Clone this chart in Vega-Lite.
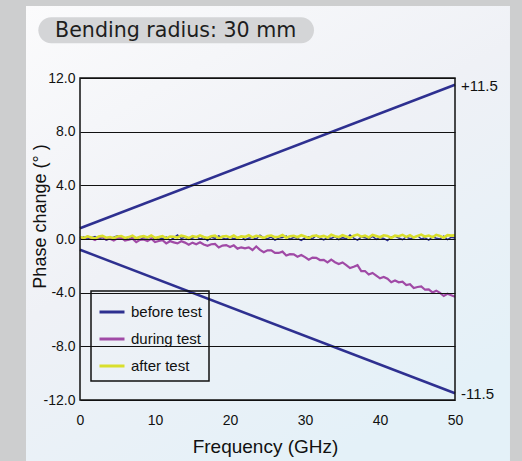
{
  "$schema": "https://vega.github.io/schema/vega-lite/v6.json",
  "width": 375,
  "height": 322,
  "autosize": {"type": "none"},
  "padding": {"left": 80, "top": 78, "right": 67, "bottom": 61},
  "background": "#cdcecf",
  "config": {
    "view": {"stroke": null},
    "axis": {
      "labelFont": "Liberation Sans",
      "labelFontSize": 14,
      "labelColor": "#111111",
      "labelFlush": false,
      "titleFont": "Liberation Sans",
      "titleFontSize": 19,
      "titleFontWeight": "normal",
      "titleColor": "#111111",
      "domain": false,
      "ticks": false,
      "gridColor": "#111111",
      "gridOpacity": 1,
      "gridWidth": 1
    },
    "legend": {
      "padding": 7,
      "strokeColor": "#111111",
      "strokeWidth": 1.5,
      "labelFont": "Liberation Sans",
      "labelFontSize": 15,
      "labelColor": "#111111",
      "symbolSize": 625,
      "symbolStrokeWidth": 3,
      "symbolType": "stroke",
      "rowPadding": 5,
      "labelOffset": 5
    }
  },
  "datasets": {
    "noisy": [
      {"f": 0, "before test": 0.06, "during test": 0.15, "after test": 0.16},
      {"f": 0.5, "before test": 0.14, "during test": 0.01, "after test": 0.06},
      {"f": 1, "before test": -0.02, "during test": 0.18, "after test": 0.2},
      {"f": 1.5, "before test": 0.09, "during test": 0.06, "after test": 0.12},
      {"f": 2, "before test": 0.18, "during test": -0.07, "after test": 0.03},
      {"f": 2.5, "before test": 0.01, "during test": 0.1, "after test": 0.18},
      {"f": 3, "before test": 0.11, "during test": 0.17, "after test": 0.23},
      {"f": 3.5, "before test": -0.08, "during test": -0.03, "after test": 0.1},
      {"f": 4, "before test": 0.04, "during test": 0.02, "after test": 0.15},
      {"f": 4.5, "before test": 0.13, "during test": -0.11, "after test": 0.06},
      {"f": 5, "before test": 0.24, "during test": 0.06, "after test": 0.19},
      {"f": 5.5, "before test": 0.0, "during test": 0.08, "after test": 0.22},
      {"f": 6, "before test": 0.08, "during test": -0.11, "after test": 0.08},
      {"f": 6.5, "before test": -0.04, "during test": -0.06, "after test": 0.14},
      {"f": 7, "before test": 0.16, "during test": 0.03, "after test": 0.24},
      {"f": 7.5, "before test": 0.05, "during test": -0.23, "after test": 0.06},
      {"f": 8, "before test": -0.06, "during test": -0.06, "after test": 0.17},
      {"f": 8.5, "before test": 0.12, "during test": -0.03, "after test": 0.21},
      {"f": 9, "before test": 0.07, "during test": -0.15, "after test": 0.12},
      {"f": 9.5, "before test": 0.22, "during test": 0.02, "after test": 0.26},
      {"f": 10, "before test": -0.02, "during test": -0.23, "after test": 0.08},
      {"f": 10.5, "before test": 0.1, "during test": -0.15, "after test": 0.14},
      {"f": 11, "before test": 0.03, "during test": -0.09, "after test": 0.22},
      {"f": 11.5, "before test": 0.14, "during test": -0.33, "after test": 0.04},
      {"f": 12, "before test": -0.1, "during test": -0.17, "after test": 0.19},
      {"f": 12.5, "before test": 0.08, "during test": -0.25, "after test": 0.17},
      {"f": 13, "before test": 0.3, "during test": -0.33, "after test": 0.11},
      {"f": 13.5, "before test": 0.04, "during test": -0.17, "after test": 0.25},
      {"f": 14, "before test": 0.12, "during test": -0.27, "after test": 0.18},
      {"f": 14.5, "before test": -0.03, "during test": -0.43, "after test": 0.07},
      {"f": 15, "before test": 0.07, "during test": -0.27, "after test": 0.22},
      {"f": 15.5, "before test": 0.17, "during test": -0.39, "after test": 0.14},
      {"f": 16, "before test": 0.01, "during test": -0.25, "after test": 0.27},
      {"f": 16.5, "before test": 0.1, "during test": -0.41, "after test": 0.15},
      {"f": 17, "before test": -0.11, "during test": -0.51, "after test": 0.08},
      {"f": 17.5, "before test": 0.13, "during test": -0.39, "after test": 0.2},
      {"f": 18, "before test": 0.05, "during test": -0.37, "after test": 0.25},
      {"f": 18.5, "before test": 0.24, "during test": -0.63, "after test": 0.05},
      {"f": 19, "before test": 0.08, "during test": -0.49, "after test": 0.18},
      {"f": 19.5, "before test": -0.02, "during test": -0.45, "after test": 0.22},
      {"f": 20, "before test": 0.14, "during test": -0.59, "after test": 0.12},
      {"f": 20.5, "before test": 0.02, "during test": -0.47, "after test": 0.26},
      {"f": 21, "before test": 0.1, "during test": -0.72, "after test": 0.08},
      {"f": 21.5, "before test": 0.2, "during test": -0.62, "after test": 0.19},
      {"f": 22, "before test": -0.06, "during test": -0.69, "after test": 0.16},
      {"f": 22.5, "before test": 0.06, "during test": -0.63, "after test": 0.28},
      {"f": 23, "before test": 0.12, "during test": -0.82, "after test": 0.12},
      {"f": 23.5, "before test": 0.0, "during test": -0.56, "after test": 0.24},
      {"f": 24, "before test": 0.28, "during test": -0.81, "after test": 0.18},
      {"f": 24.5, "before test": 0.08, "during test": -0.99, "after test": 0.07},
      {"f": 25, "before test": 0.02, "during test": -0.84, "after test": 0.22},
      {"f": 25.5, "before test": 0.14, "during test": -0.85, "after test": 0.26},
      {"f": 26, "before test": -0.08, "during test": -1.03, "after test": 0.14},
      {"f": 26.5, "before test": 0.07, "during test": -1.04, "after test": 0.17},
      {"f": 27, "before test": 0.11, "during test": -0.94, "after test": 0.3},
      {"f": 27.5, "before test": 0.22, "during test": -1.23, "after test": 0.1},
      {"f": 28, "before test": -0.02, "during test": -1.13, "after test": 0.21},
      {"f": 28.5, "before test": 0.12, "during test": -1.14, "after test": 0.24},
      {"f": 29, "before test": 0.04, "during test": -1.32, "after test": 0.13},
      {"f": 29.5, "before test": -0.1, "during test": -1.19, "after test": 0.28},
      {"f": 30, "before test": 0.09, "during test": -1.35, "after test": 0.18},
      {"f": 30.5, "before test": 0.16, "during test": -1.54, "after test": 0.07},
      {"f": 31, "before test": 0.02, "during test": -1.39, "after test": 0.23},
      {"f": 31.5, "before test": 0.26, "during test": -1.4, "after test": 0.26},
      {"f": 32, "before test": 0.07, "during test": -1.57, "after test": 0.16},
      {"f": 32.5, "before test": -0.06, "during test": -1.56, "after test": 0.23},
      {"f": 33, "before test": 0.13, "during test": -1.75, "after test": 0.11},
      {"f": 33.5, "before test": 0.04, "during test": -1.54, "after test": 0.31},
      {"f": 34, "before test": 0.18, "during test": -1.73, "after test": 0.2},
      {"f": 34.5, "before test": -0.04, "during test": -1.86, "after test": 0.14},
      {"f": 35, "before test": 0.1, "during test": -1.75, "after test": 0.28},
      {"f": 35.5, "before test": 0.02, "during test": -1.95, "after test": 0.19},
      {"f": 36, "before test": 0.29, "during test": -2.17, "after test": 0.09},
      {"f": 36.5, "before test": 0.06, "during test": -2.07, "after test": 0.25},
      {"f": 37, "before test": -0.08, "during test": -1.95, "after test": 0.33},
      {"f": 37.5, "before test": 0.14, "during test": -2.39, "after test": 0.17},
      {"f": 38, "before test": 0.09, "during test": -2.39, "after test": 0.25},
      {"f": 38.5, "before test": 0.01, "during test": -2.65, "after test": 0.11},
      {"f": 39, "before test": 0.2, "during test": -2.53, "after test": 0.3},
      {"f": 39.5, "before test": -0.02, "during test": -2.73, "after test": 0.22},
      {"f": 40, "before test": 0.11, "during test": -2.93, "after test": 0.13},
      {"f": 40.5, "before test": 0.04, "during test": -2.83, "after test": 0.28},
      {"f": 41, "before test": -0.12, "during test": -2.96, "after test": 0.23},
      {"f": 41.5, "before test": 0.13, "during test": -3.22, "after test": 0.08},
      {"f": 42, "before test": 0.22, "during test": -3.09, "after test": 0.25},
      {"f": 42.5, "before test": 0.07, "during test": -3.23, "after test": 0.21},
      {"f": 43, "before test": -0.04, "during test": -3.18, "after test": 0.31},
      {"f": 43.5, "before test": 0.15, "during test": -3.44, "after test": 0.16},
      {"f": 44, "before test": 0.02, "during test": -3.37, "after test": 0.28},
      {"f": 44.5, "before test": 0.1, "during test": -3.65, "after test": 0.11},
      {"f": 45, "before test": 0.24, "during test": -3.58, "after test": 0.23},
      {"f": 45.5, "before test": 0.0, "during test": -3.53, "after test": 0.33},
      {"f": 46, "before test": 0.09, "during test": -3.78, "after test": 0.18},
      {"f": 46.5, "before test": -0.08, "during test": -3.75, "after test": 0.26},
      {"f": 47, "before test": 0.17, "during test": -3.98, "after test": 0.13},
      {"f": 47.5, "before test": 0.06, "during test": -3.85, "after test": 0.31},
      {"f": 48, "before test": 0.01, "during test": -4.02, "after test": 0.22},
      {"f": 48.5, "before test": 0.21, "during test": -4.25, "after test": 0.1},
      {"f": 49, "before test": -0.04, "during test": -4.08, "after test": 0.29},
      {"f": 49.5, "before test": 0.13, "during test": -4.19, "after test": 0.25},
      {"f": 50, "before test": 0.08, "during test": -4.3, "after test": 0.27}
    ],
    "limits": [
      {"f": 0, "v": 0.8, "g": "upper"},
      {"f": 50, "v": 11.5, "g": "upper"},
      {"f": 0, "v": -0.8, "g": "lower"},
      {"f": 50, "v": -11.5, "g": "lower"}
    ],
    "ends": [
      {"f": 50, "v": 11.5, "label": "+11.5"},
      {"f": 50, "v": -11.5, "label": "-11.5"}
    ],
    "deco": [{"item": "decoration"}]
  },
  "layer": [
    {
      "data": {"name": "deco"},
      "mark": {
        "type": "rect",
        "fill": {
          "gradient": "linear",
          "x1": 0, "y1": 0, "x2": 0.6, "y2": 1,
          "stops": [
            {"offset": 0, "color": "#fbfbfc"},
            {"offset": 0.5, "color": "#eff1f6"},
            {"offset": 1, "color": "#e4f1f8"}
          ]
        }
      },
      "encoding": {
        "x": {
          "datum": -7.2, "type": "quantitative",
          "scale": {"domain": [0, 50], "nice": false, "zero": false},
          "axis": {"values": [0, 10, 20, 30, 40, 50], "title": "Frequency (GHz)", "labelPadding": 13, "grid": false, "titleX": 185, "titleY": 52.7, "titleBaseline": "alphabetic", "zindex": 2}
        },
        "x2": {"datum": 57.33},
        "y": {
          "datum": 17.37, "type": "quantitative",
          "scale": {"domain": [-12, 12], "nice": false, "zero": false},
          "axis": {"values": [-12, -8, -4, 0, 4, 8, 12], "labelExpr": "replace(format(datum.value, '.1f'), '−', '-')", "title": "Phase change (°  )", "titleFontSize": 18, "labelPadding": 5, "titleX": -35, "titleY": 138, "titleBaseline": "alphabetic", "titleAlign": "center", "grid": true, "zindex": 2}
        },
        "y2": {"datum": -17}
      }
    },
    {
      "data": {"name": "deco"},
      "mark": {"type": "rect", "fill": "#d4d5d7", "cornerRadius": 13},
      "encoding": {
        "x": {"datum": -5.56, "type": "quantitative"},
        "x2": {"datum": 31.2},
        "y": {"datum": 16.52, "type": "quantitative"},
        "y2": {"datum": 14.59}
      }
    },
    {
      "data": {"name": "deco"},
      "mark": {"type": "text", "text": "Bending radius: 30 mm", "font": "DejaVu Sans", "fontSize": 20.6, "color": "#1e1e1e", "align": "left", "baseline": "alphabetic"},
      "encoding": {
        "x": {"datum": -3.33, "type": "quantitative"},
        "y": {"datum": 15.03, "type": "quantitative"}
      }
    },
    {
      "data": {"name": "limits"},
      "mark": {"type": "line", "color": "#2e3090", "strokeWidth": 2.5},
      "encoding": {
        "x": {"field": "f", "type": "quantitative"},
        "y": {"field": "v", "type": "quantitative"},
        "detail": {"field": "g"}
      }
    },
    {
      "data": {"name": "noisy"},
      "transform": [
        {"fold": ["before test", "during test", "after test"], "as": ["key", "v"]},
        {"filter": "datum.key === 'before test'"}
      ],
      "mark": {"type": "line", "strokeWidth": 1.5},
      "encoding": {
        "x": {"field": "f", "type": "quantitative"},
        "y": {"field": "v", "type": "quantitative"},
        "color": {
          "field": "key", "type": "nominal",
          "scale": {"domain": ["before test", "during test", "after test"], "range": ["#2e3090", "#a04aa6", "#d9df2c"]},
          "legend": {"title": null, "orient": "none", "legendX": 11, "legendY": 213}
        }
      }
    },
    {
      "data": {"name": "noisy"},
      "transform": [
        {"fold": ["before test", "during test", "after test"], "as": ["key", "v"]},
        {"filter": "datum.key === 'during test'"}
      ],
      "mark": {"type": "line", "strokeWidth": 2.2},
      "encoding": {
        "x": {"field": "f", "type": "quantitative"},
        "y": {"field": "v", "type": "quantitative"},
        "color": {"field": "key", "type": "nominal"}
      }
    },
    {
      "data": {"name": "noisy"},
      "transform": [
        {"fold": ["before test", "during test", "after test"], "as": ["key", "v"]},
        {"filter": "datum.key === 'after test'"}
      ],
      "mark": {"type": "line", "strokeWidth": 2.6},
      "encoding": {
        "x": {"field": "f", "type": "quantitative"},
        "y": {"field": "v", "type": "quantitative"},
        "color": {"field": "key", "type": "nominal"}
      }
    },
    {
      "data": {"name": "deco"},
      "mark": {"type": "rect", "filled": false, "color": "#111111", "strokeWidth": 1.5},
      "encoding": {
        "x": {"datum": 0, "type": "quantitative"},
        "x2": {"datum": 50},
        "y": {"datum": -12, "type": "quantitative"},
        "y2": {"datum": 12}
      }
    },
    {
      "data": {"name": "ends"},
      "mark": {"type": "text", "align": "left", "baseline": "middle", "dx": 6, "dy": 1, "font": "Liberation Sans", "fontSize": 15, "color": "#111111"},
      "encoding": {
        "x": {"field": "f", "type": "quantitative"},
        "y": {"field": "v", "type": "quantitative"},
        "text": {"field": "label"}
      }
    }
  ]
}
